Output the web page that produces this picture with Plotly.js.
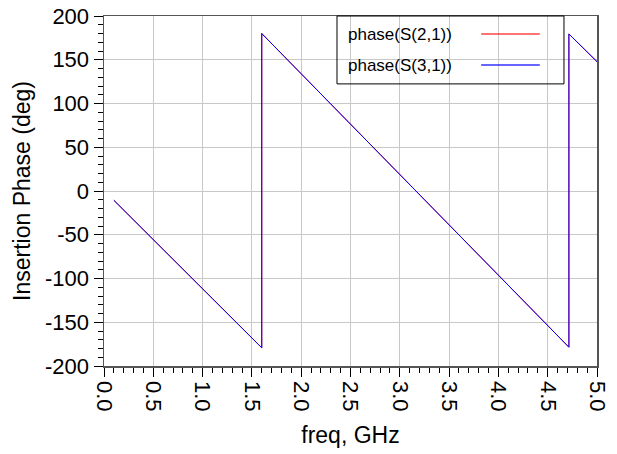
<!DOCTYPE html>
<html>
<head>
<meta charset="utf-8">
<script src="https://cdn.plot.ly/plotly-3.0.1.min.js"></script>
<style>
html,body{margin:0;padding:0;background:#fff;}
#chart{width:617px;height:454px;}
</style>
</head>
<body>
<div id="chart"></div>
<script>
// Frequency (GHz) breakpoints (linear segments with phase wraps)
const freq = [0.1, 1.6, 1.6, 4.715, 4.715, 5.0];
const phaseS21 = [-10.6, -179.2, 180.0, -178.5, 179.5, 147.8];
const phaseS31 = [-10.6, -179.2, 180.0, -178.5, 179.5, 147.8];
const seriesNames = ["phase(S(2,1))", "phase(S(3,1))"];
const seriesColors = ["#ff0000", "#0000ff"];
const yTickVals = [-200, -150, -100, -50, 0, 50, 100, 150, 200];
const yTickText = ["-200", "-150", "-100", "-50", "0", "50", "100", "150", "200"];

const FONT = "Liberation Sans, Arial, Helvetica, sans-serif";

const traces = [
  {x: freq, y: phaseS21, name: seriesNames[0], type: "scatter", mode: "lines",
   line: {color: seriesColors[0], width: 1}, showlegend: false},
  {x: freq, y: phaseS31, name: seriesNames[1], type: "scatter", mode: "lines",
   line: {color: seriesColors[1], width: 1}, showlegend: false}
];

const layout = {
  width: 617, height: 454,
  margin: {l: 104, r: 20, t: 16, b: 88},
  paper_bgcolor: "#ffffff", plot_bgcolor: "#ffffff",
  font: {family: FONT, color: "#000"},
  showlegend: false,
  xaxis: {
    range: [0, 5], tick0: 0, dtick: 0.5, tickformat: ".1f", tickangle: 90,
    ticks: "outside", ticklen: 9, tickwidth: 1, tickcolor: "#000",
    showgrid: true, gridcolor: "#c8c8c8", gridwidth: 1,
    zeroline: false, showline: true, linecolor: "#555", linewidth: 1.5, mirror: true,
    tickfont: {family: FONT, size: 22, color: "#000"},
    minor: {dtick: 0.1, ticks: "outside", ticklen: 5, tickcolor: "#000", showgrid: false},
    title: {text: "freq, GHz", font: {family: FONT, size: 23, color: "#000"}, standoff: 16}
  },
  yaxis: {
    range: [-200, 200], tickmode: "array", tickvals: yTickVals, ticktext: yTickText,
    ticks: "outside", ticklen: 9, tickwidth: 1, tickcolor: "#000",
    showgrid: true, gridcolor: "#c8c8c8", gridwidth: 1,
    zeroline: false, showline: true, linecolor: "#555", linewidth: 1.5, mirror: true,
    tickfont: {family: FONT, size: 22, color: "#000"},
    minor: {dtick: 10, tick0: -200, ticks: "outside", ticklen: 5, tickcolor: "#000", showgrid: false},
    title: {text: "Insertion Phase (deg)", font: {family: FONT, size: 23, color: "#000"}, standoff: 8}
  },
  shapes: [
    {type: "rect", xref: "paper", yref: "paper", x0: 0.4726, x1: 0.933, y0: 0.806, y1: 1.0,
     line: {color: "#000", width: 1}, fillcolor: "rgba(255,255,255,0)", layer: "above"},
    {type: "line", xref: "paper", yref: "paper", x0: 0.765, x1: 0.884, y0: 0.9485, y1: 0.9485,
     line: {color: "rgba(255,0,0,0.55)", width: 2}},
    {type: "line", xref: "paper", yref: "paper", x0: 0.765, x1: 0.884, y0: 0.860, y1: 0.860,
     line: {color: "rgba(0,0,255,0.6)", width: 2}}
  ],
  annotations: [
    {xref: "paper", yref: "paper", x: 0.491, y: 0.9485, xanchor: "left", yanchor: "middle",
     text: seriesNames[0], showarrow: false, font: {family: FONT, size: 17, color: "#000"}},
    {xref: "paper", yref: "paper", x: 0.491, y: 0.860, xanchor: "left", yanchor: "middle",
     text: seriesNames[1], showarrow: false, font: {family: FONT, size: 17, color: "#000"}}
  ]
};

Plotly.newPlot("chart", traces, layout, {staticPlot: true, displayModeBar: false});
</script>
</body>
</html>
